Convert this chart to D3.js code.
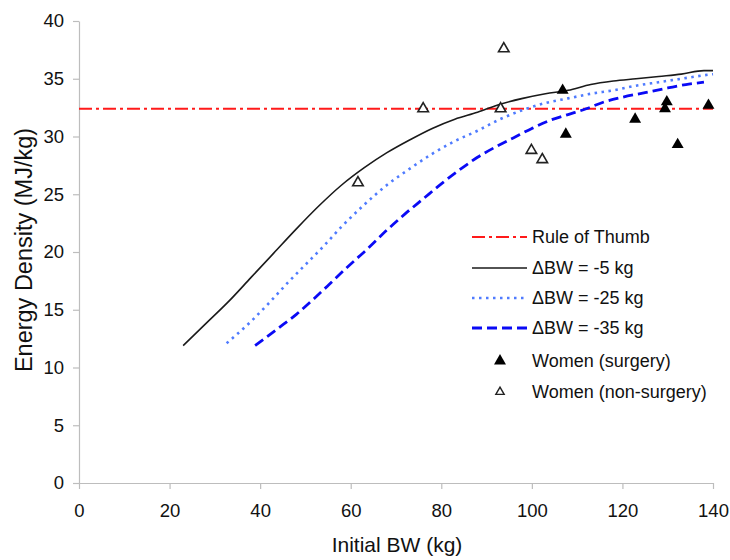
<!DOCTYPE html>
<html>
<head>
<meta charset="utf-8">
<script src="https://cdn.jsdelivr.net/npm/d3@7"></script>
<style>
  body { margin: 0; background: #fff; }
  svg text { font-family: "Liberation Sans", Arial, sans-serif; fill: #111; }
</style>
</head>
<body>
<div class="graph-container"></div>
<script>
// values
const ruleOfThumb = 32.4;

const bw5X = [23, 28, 33, 38, 43, 48, 53, 58, 63, 68, 73, 78, 83, 88, 93, 98, 103, 108, 113, 118, 123, 128, 133, 138, 140];
const bw5Y = [11.9, 13.8, 15.7, 17.8, 19.9, 22.0, 24.0, 25.8, 27.3, 28.6, 29.7, 30.7, 31.5, 32.1, 32.8, 33.3, 33.7, 34.0, 34.5, 34.8, 35.0, 35.2, 35.4, 35.7, 35.7];

const bw25X = [32.6, 38, 42, 46, 50, 54, 58, 63, 68, 73, 78, 83, 88, 93, 98, 103, 108, 113, 118, 123, 128, 133, 138, 140];
const bw25Y = [12.1, 14.0, 15.6, 17.3, 18.9, 20.5, 22.2, 24.1, 25.8, 27.2, 28.5, 29.6, 30.5, 31.5, 32.3, 32.9, 33.3, 33.7, 34.0, 34.4, 34.7, 35.0, 35.3, 35.4];

const bw35X = [38.9, 44, 48, 52, 55, 59, 63.5, 68, 72, 76, 80, 84, 88, 92, 96, 100, 104, 108, 112, 116, 120, 125, 130, 134, 138];
const bw35Y = [11.9, 13.4, 14.6, 16.0, 17.1, 18.6, 20.2, 21.9, 23.3, 24.6, 25.9, 27.1, 28.2, 29.1, 29.9, 30.7, 31.4, 31.9, 32.4, 33.0, 33.4, 33.8, 34.2, 34.5, 34.7];

const surgeryX = [106.8, 107.5, 122.8, 129.8, 129.4, 132.2, 139.0];
const surgeryY = [34.0, 30.2, 31.5, 33.0, 32.4, 29.3, 32.7];

const nonSurgeryX = [61.6, 76.0, 93.1, 93.8, 99.9, 102.3];
const nonSurgeryY = [26.0, 32.4, 32.4, 37.6, 28.8, 28.0];

const xTicks = [0, 20, 40, 60, 80, 100, 120, 140];
const yTicks = [0, 5, 10, 15, 20, 25, 30, 35, 40];

const legendLabels = ["Rule of Thumb", "\u0394BW = -5 kg", "\u0394BW = -25 kg", "\u0394BW = -35 kg", "Women (surgery)", "Women (non-surgery)"];

// size and scales
const w = 730;
const h = 560;

const xScale = d3.scaleLinear().domain([0, 140]).range([79, 713]);
const yScale = d3.scaleLinear().domain([0, 40]).range([483, 21]);

const svg = d3.select('.graph-container')
  .append("svg")
  .attr("width", w)
  .attr("height", h);

// axes
const xAxis = d3.axisBottom(xScale).tickValues(xTicks).tickSize(6).tickPadding(15).tickSizeOuter(0);
const yAxis = d3.axisLeft(yScale).tickValues(yTicks).tickSize(6).tickPadding(9).tickSizeOuter(0);

const gx = svg.append("g")
  .attr("transform", "translate(0," + yScale(0) + ")")
  .call(xAxis);
const gy = svg.append("g")
  .attr("transform", "translate(" + xScale(0) + ",0)")
  .call(yAxis);

[gx, gy].forEach(g => {
  g.selectAll("path, line").attr("stroke", "#bdbdbd").attr("stroke-width", 1.2);
  g.selectAll("text").style("font-size", "18.5px").attr("fill", "#111");
});

svg.append("text")
  .attr("x", 397)
  .attr("y", 552)
  .attr("text-anchor", "middle")
  .style("font-size", "21px")
  .text("Initial BW (kg)");

svg.append("text")
  .attr("transform", "translate(32,250) rotate(-90)")
  .attr("text-anchor", "middle")
  .style("font-size", "23.5px")
  .text("Energy Density (MJ/kg)");

// lines
const line = d3.line().x(d => xScale(d[0])).y(d => yScale(d[1])).curve(d3.curveMonotoneX);

const styles = [
  { color: "#ff1a1a", width: 2, dash: "13,4,3,4" },
  { color: "#1a1a1a", width: 1.6, dash: null },
  { color: "#4f7bff", width: 2.6, dash: "2.5,4.5" },
  { color: "#0a0af5", width: 2.8, dash: "10,5" }
];

svg.append("line")
  .attr("x1", xScale(0)).attr("x2", xScale(140))
  .attr("y1", yScale(ruleOfThumb)).attr("y2", yScale(ruleOfThumb))
  .attr("stroke", styles[0].color)
  .attr("stroke-width", styles[0].width)
  .attr("stroke-dasharray", styles[0].dash);

const series = [
  d3.zip(bw5X, bw5Y),
  d3.zip(bw25X, bw25Y),
  d3.zip(bw35X, bw35Y)
];

series.forEach((s, i) => {
  svg.append("path")
    .datum(s)
    .attr("d", line)
    .attr("fill", "none")
    .attr("stroke", styles[i + 1].color)
    .attr("stroke-width", styles[i + 1].width)
    .attr("stroke-dasharray", styles[i + 1].dash);
});

// triangles
const tri = d3.symbol().type(d3.symbolTriangle).size(62);

svg.selectAll(".surg")
  .data(d3.zip(surgeryX, surgeryY))
  .enter()
  .append("path")
  .attr("class", "surg")
  .attr("d", tri)
  .attr("transform", d => "translate(" + xScale(d[0]) + "," + yScale(d[1]) + ")")
  .attr("fill", "#000");

svg.selectAll(".nonsurg")
  .data(d3.zip(nonSurgeryX, nonSurgeryY))
  .enter()
  .append("path")
  .attr("class", "nonsurg")
  .attr("d", d3.symbol().type(d3.symbolTriangle).size(48))
  .attr("transform", d => "translate(" + xScale(d[0]) + "," + yScale(d[1]) + ")")
  .attr("fill", "#fff")
  .attr("stroke", "#222")
  .attr("stroke-width", 1.6);

// legend
const legendY = [237, 268, 298, 328, 361, 392];
const legend = svg.append("g");

legendLabels.forEach((label, i) => {
  const y = legendY[i];
  if (i < 4) {
    legend.append("line")
      .attr("x1", 472).attr("x2", 527)
      .attr("y1", y).attr("y2", y)
      .attr("stroke", styles[i].color)
      .attr("stroke-width", styles[i].width)
      .attr("stroke-dasharray", styles[i].dash);
  } else if (i === 4) {
    legend.append("path")
      .attr("d", tri)
      .attr("transform", "translate(500," + y + ")")
      .attr("fill", "#000");
  } else {
    legend.append("path")
      .attr("d", d3.symbol().type(d3.symbolTriangle).size(30))
      .attr("transform", "translate(500," + y + ")")
      .attr("fill", "#fff")
      .attr("stroke", "#222")
      .attr("stroke-width", 1.4);
  }
  legend.append("text")
    .attr("x", 532)
    .attr("y", y + 6)
    .style("font-size", "18px")
    .text(label);
});
</script>
</body>
</html>
